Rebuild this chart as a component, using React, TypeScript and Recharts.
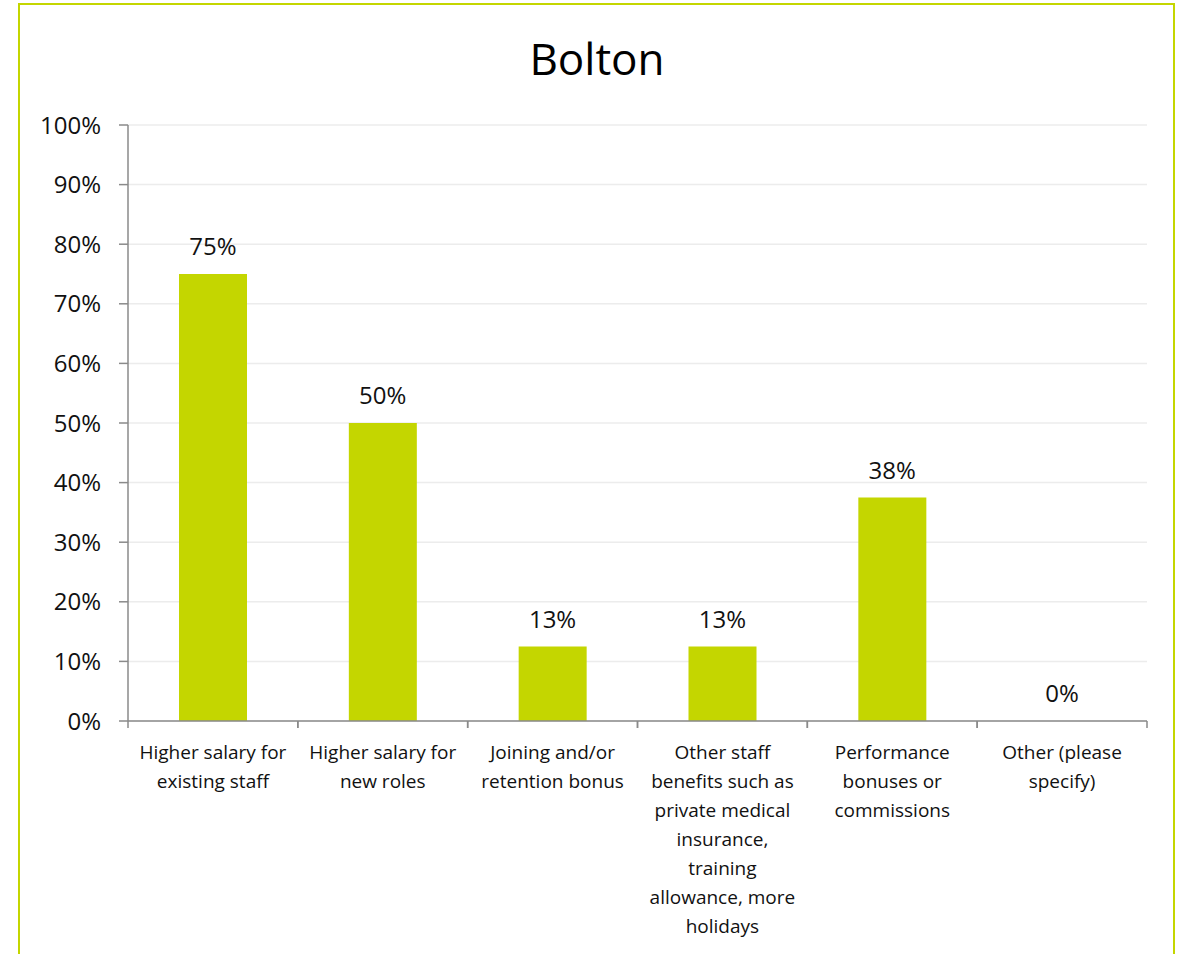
import React from 'react';
import { ComposedChart, Bar, Line, XAxis, YAxis, CartesianGrid, LabelList } from 'recharts';

const title = 'Bolton';
const categories = [
  'Higher salary for existing staff',
  'Higher salary for new roles',
  'Joining and/or retention bonus',
  'Other staff benefits such as private medical insurance, training allowance, more holidays',
  'Performance bonuses or commissions',
  'Other (please specify)',
];
const tickLabelLines: string[][] = [
  ['Higher salary for', 'existing staff'],
  ['Higher salary for', 'new roles'],
  ['Joining and/or', 'retention bonus'],
  ['Other staff', 'benefits such as', 'private medical', 'insurance,', 'training', 'allowance, more', 'holidays'],
  ['Performance', 'bonuses or', 'commissions'],
  ['Other (please', 'specify)'],
];
const values = [0.75, 0.5, 0.125, 0.125, 0.375, 0];
const yTicks = [0, 0.1, 0.2, 0.3, 0.4, 0.5, 0.6, 0.7, 0.8, 0.9, 1];

const data = categories.map((c, i) => ({ category: c, value: values[i], idx: i }));

const FONT = '"Open Sans", "Noto Sans", sans-serif';
const LIME = '#c4d600';
const AXIS = '#8a8a8a';

const pct = (v: number) => `${Math.round(v * 100)}%`;

const CategoryTick = (props: any) => {
  const { x, y, payload, index } = props;
  const half = payload && payload.offset ? payload.offset : 0;
  const lines = tickLabelLines[index] || [String(payload.value)];
  return (
    <g>
      <line x1={x - half} x2={x - half} y1={y} y2={y + 7} stroke={AXIS} strokeWidth={1.5} />
      <line x1={x + half} x2={x + half} y1={y} y2={y + 7} stroke={AXIS} strokeWidth={1.5} />
      <text x={x} y={y} textAnchor="middle" fontFamily={FONT} fontSize={19} fill="#111">
        {lines.map((l, i) => (
          <tspan key={i} x={x} y={y + 38 + i * 29}>
            {l}
          </tspan>
        ))}
      </text>
    </g>
  );
};

export default function App() {
  return (
    <div style={{ position: 'absolute', left: 0, top: 0, width: 1178, height: 954, overflow: 'hidden', background: '#fff' }}>
      <div
        style={{
          position: 'absolute',
          left: 18,
          top: 3,
          width: 1153,
          height: 1100,
          border: `2px solid ${LIME}`,
        }}
      />
      <div
        style={{
          position: 'absolute',
          left: 0,
          width: 1194,
          top: 28,
          textAlign: 'center',
          fontFamily: FONT,
          fontSize: 44,
          lineHeight: '60px',
          color: '#000',
        }}
      >
        {title}
      </div>
      <div style={{ position: 'absolute', left: 0, top: 0 }}>
        <ComposedChart
          width={1178}
          height={954}
          data={data}
          margin={{ top: 125, right: 31, bottom: 0, left: 0 }}
          barSize={68}
        >
          <CartesianGrid horizontal vertical={false} stroke="#ececec" strokeWidth={1.5} />
          <XAxis
            dataKey="category"
            interval={0}
            height={233}
            tickLine={false}
            tickSize={0}
            tickMargin={0}
            stroke={AXIS}
            strokeWidth={1.5}
            tick={<CategoryTick />}
          />
          <YAxis
            width={128}
            domain={[0, 1]}
            ticks={yTicks}
            tickFormatter={pct}
            tickSize={9}
            tickMargin={18}
            stroke={AXIS}
            strokeWidth={1.5}
            tick={{ fontFamily: FONT, fontSize: 24, fill: '#111' }}
          />
          <Bar dataKey="value" fill={LIME} isAnimationActive={false} />
          <Line
            dataKey="value"
            stroke="none"
            dot={false}
            activeDot={false}
            legendType="none"
            isAnimationActive={false}
          >
            <LabelList
              dataKey="value"
              position="top"
              offset={19}
              formatter={(v: any) => pct(Number(v))}
              style={{ fontFamily: FONT, fontSize: 24, fill: '#111' }}
            />
          </Line>
        </ComposedChart>
      </div>
    </div>
  );
}
